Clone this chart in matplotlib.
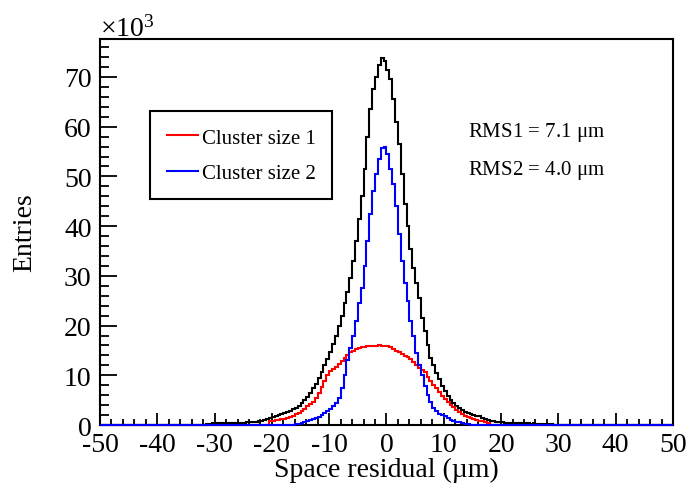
import numpy as np
import matplotlib
matplotlib.use('Agg')
import matplotlib.pyplot as plt
from matplotlib.lines import Line2D
from matplotlib.ticker import MultipleLocator

plt.rcParams['font.family'] = ['Liberation Serif', 'DejaVu Serif']
plt.rcParams['mathtext.fontset'] = 'custom'
plt.rcParams['mathtext.rm'] = 'Liberation Serif'
plt.rcParams['axes.unicode_minus'] = False

# histogram data, entries in units of 10^3, bin width 0.5 um
bin_width = 0.5
x_range = (-50.0, 50.0)

# all clusters (black), first bin starts at -31.5 um
black_start = -31.5
black_counts = [
    0.3, 0.3, 0.35, 0.3, 0.35, 0.4, 0.35, 0.4, 0.4, 0.45,
    0.4, 0.45, 0.5, 0.5, 0.55, 0.55, 0.6, 0.7, 0.8, 0.9,
    1.0, 1.2, 1.4, 1.7, 1.9, 2.0, 2.2, 2.4, 2.6, 2.9,
    3.2, 3.5, 3.9, 4.4, 5.0, 5.7, 6.5, 7.4, 8.3, 9.4,
    10.6, 12.0, 13.3, 14.7, 16.3, 18.0, 20.0, 22.0, 24.5, 26.8,
    29.5, 33.0, 37.0, 41.5, 46.0, 51.5, 58.0, 63.5, 67.5, 70.0,
    72.5, 73.8, 73.2, 71.5, 69.5, 65.5, 61.0, 56.5, 50.5, 44.5,
    40.0, 35.5, 31.5, 28.5, 25.5, 21.5, 19.0, 16.0, 13.5, 12.0,
    10.5, 9.2, 7.8, 6.8, 5.9, 5.1, 4.4, 3.8, 3.4, 3.0,
    2.7, 2.4, 2.2, 2.0, 1.9, 1.8, 1.5, 1.3, 1.1, 0.9,
    0.8, 0.7, 0.6, 0.55, 0.5, 0.5, 0.45, 0.45, 0.4, 0.4,
    0.35, 0.4, 0.35, 0.3, 0.35, 0.3, 0.3, 0.25, 0.3, 0.25,
    0.25,
]

# cluster size 1 (red)
red_start = -20.5
red_counts = [
    0.8, 0.9, 1.0, 1.1, 1.2, 1.3, 1.5, 1.7, 1.9, 2.2,
    2.5, 2.9, 3.3, 3.8, 4.2, 4.7, 5.4, 6.4, 7.6, 8.8,
    10.0, 10.8, 11.2, 11.7, 12.2, 12.8, 13.4, 14.0, 14.6, 14.9,
    15.2, 15.4, 15.6, 15.7, 15.8, 15.9, 15.9, 15.9, 16.0, 15.8,
    15.9, 15.8, 15.6, 15.3, 14.9, 14.6, 14.2, 13.9, 13.6, 13.3,
    12.7, 12.1, 11.5, 11.1, 10.7, 9.7, 8.8, 8.0, 7.4, 6.6,
    5.9, 5.2, 4.6, 4.1, 3.6, 3.1, 2.7, 2.3, 1.9, 1.7,
    1.5, 1.3, 1.1, 0.9, 0.8, 0.6, 0.5,
]

# cluster size 2 (blue)
blue_start = -16.0
blue_counts = [
    0.2, 0.3, 0.45, 0.6, 0.8, 1.0, 1.3, 1.5, 1.7, 2.0,
    2.4, 2.8, 3.3, 3.8, 4.4, 5.5, 7.5, 10.0, 13.0, 15.5,
    18.0, 21.0, 24.5, 27.5, 32.0, 37.0, 42.5, 47.0, 50.5, 53.5,
    55.8, 56.0, 54.5, 51.5, 48.5, 44.0, 38.5, 33.0, 28.5, 25.0,
    21.0, 18.0, 14.5, 12.0, 10.0, 7.8, 6.0, 4.6, 3.5, 2.8,
    2.3, 2.0, 1.8, 1.4, 1.1, 0.9, 0.7, 0.55, 0.4, 0.3,
    0.2, 0.1,
]

legend_labels = ['Cluster size 1', 'Cluster size 2']
rms_text = [r'RMS1 = 7.1 $\mathrm{\mu}$m', r'RMS2 = 4.0 $\mathrm{\mu}$m']

edges = np.arange(x_range[0], x_range[1] + bin_width / 2, bin_width)
nbins = len(edges) - 1


def full_hist(start, counts):
    h = np.zeros(nbins)
    i0 = int(round((start - x_range[0]) / bin_width))
    h[i0:i0 + len(counts)] = counts
    return h


fig = plt.figure(figsize=(6.92, 4.89), dpi=100)
ax = fig.add_axes([0.1445, 0.1288, 0.828, 0.789])

ax.stairs(full_hist(black_start, black_counts), edges, color='black', lw=1.5, zorder=3, clip_on=False)
ax.stairs(full_hist(red_start, red_counts), edges, color='#ff0000', lw=1.5, zorder=3, clip_on=False)
ax.stairs(full_hist(blue_start, blue_counts), edges, color='#0000ff', lw=1.5, zorder=3, clip_on=False)

ax.set_xlim(x_range)
ax.set_ylim(0, 77.6)
ax.xaxis.set_major_locator(MultipleLocator(10))
ax.xaxis.set_minor_locator(MultipleLocator(2))
ax.yaxis.set_major_locator(MultipleLocator(10))
ax.yaxis.set_minor_locator(MultipleLocator(2))
ax.tick_params(axis='both', which='both', direction='in', top=False, right=False, labelsize=20, width=1.3)
ax.tick_params(axis='x', which='major', length=8.3, pad=5)
ax.tick_params(axis='x', which='minor', length=4.2)
ax.tick_params(axis='y', which='major', length=12.4, pad=6)
ax.tick_params(axis='y', which='minor', length=6.2)
for sp in ax.spines.values():
    sp.set_linewidth(1.5)

ax.set_xlabel(u'Space residual (\u00b5m)', fontsize=20, labelpad=0)
ax.set_ylabel('Entries', fontsize=20, labelpad=19)

fig.text(0.1445, 0.94, r'$\mathrm{\times10^{3}}$', fontsize=20, ha='left', va='center')

handles = [Line2D([], [], color='#ff0000', lw=1.5), Line2D([], [], color='#0000ff', lw=1.5)]
leg = ax.legend(handles, legend_labels, loc='upper left', bbox_to_anchor=(0.087, 0.813),
                fontsize=15, frameon=True, fancybox=False, edgecolor='black', framealpha=1,
                handlelength=1.5, handletextpad=0.2, labelspacing=0.75, borderpad=0.8,
                borderaxespad=0)
leg.get_frame().set_linewidth(1.5)

ax.text(0.642, 0.762, rms_text[0], transform=ax.transAxes, fontsize=15, va='center', ha='left')
ax.text(0.642, 0.663, rms_text[1], transform=ax.transAxes, fontsize=15, va='center', ha='left')

fig.savefig('out.png', dpi=100)
